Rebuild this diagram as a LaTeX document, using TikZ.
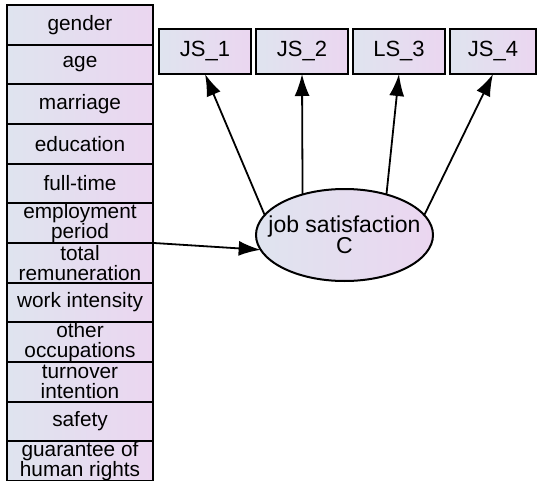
\documentclass[tikz,border=0pt]{standalone}
\usepackage{fontspec}
\setmainfont{Liberation Sans}
\usetikzlibrary{arrows.meta,positioning,shapes.geometric}
\definecolor{Haze}{HTML}{DFE4EF}
\definecolor{Lilac}{HTML}{EBD6F0}
\tikzset{
 item/.style={draw=black,line width=1pt,left color=Haze,right color=Lilac,
   minimum width=73pt,minimum height=19.83pt,inner xsep=1pt,inner ysep=0pt,outer sep=0pt,
   align=center,font=\fontsize{10.4}{10}\selectfont},
 indic/.style={item,minimum width=46pt,minimum height=22.5pt,font=\fontsize{11}{12}\selectfont},
 latent/.style={ellipse,draw=black,line width=1pt,left color=Haze,right color=Lilac,
   minimum width=88.5pt,minimum height=46pt,inner xsep=-10pt,inner ysep=0pt,outer sep=0pt,
   align=center,font=\fontsize{11.5}{10.5}\selectfont},
 arr/.style={-{Latex[length=11pt,width=7.5pt]},line width=0.9pt,draw=black}
}
\begin{document}
\begin{tikzpicture}
\useasboundingbox (0,0) rectangle (270pt,-240.5pt);
% left column of observed variables
\node[item] (gender) at (40pt,-12.4pt) {gender};
\node[item,below=0pt of gender] (age) {age};
\node[item,below=0pt of age] (marriage) {marriage};
\node[item,below=0pt of marriage] (edu) {education};
\node[item,below=0pt of edu] (fulltime) {full-time};
\node[item,below=0pt of fulltime] (period) {employment\\period};
\node[item,below=0pt of period] (pay) {total\\remuneration};
\node[item,below=0pt of pay] (intensity) {work intensity};
\node[item,below=0pt of intensity] (otherjob) {other\\occupations};
\node[item,below=0pt of otherjob] (turnover) {turnover\\intention};
\node[item,below=0pt of turnover] (safety) {safety};
\node[item,below=0pt of safety] (rights) {guarantee of\\human rights};
% indicators
\node[indic] (js1) at (102.5pt,-25.75pt) {JS\_1};
\node[indic,right=2.5pt of js1] (js2) {JS\_2};
\node[indic,right=2.5pt of js2] (ls3) {LS\_3};
\node[indic,minimum width=43pt,right=2.5pt of ls3] (js4) {JS\_4};
% latent
\node[latent] (js) at (172.25pt,-117.5pt) {job satisfaction\\C};
\draw[arr] (period.south east) -- (js.190);
\draw[arr] (js.166) -- (js1.south);
\draw[arr] (js.136) -- (js2.south);
\draw[arr] (js.44) -- (ls3.south);
\draw[arr] (js.14) -- (js4.south);
\end{tikzpicture}
\end{document}
